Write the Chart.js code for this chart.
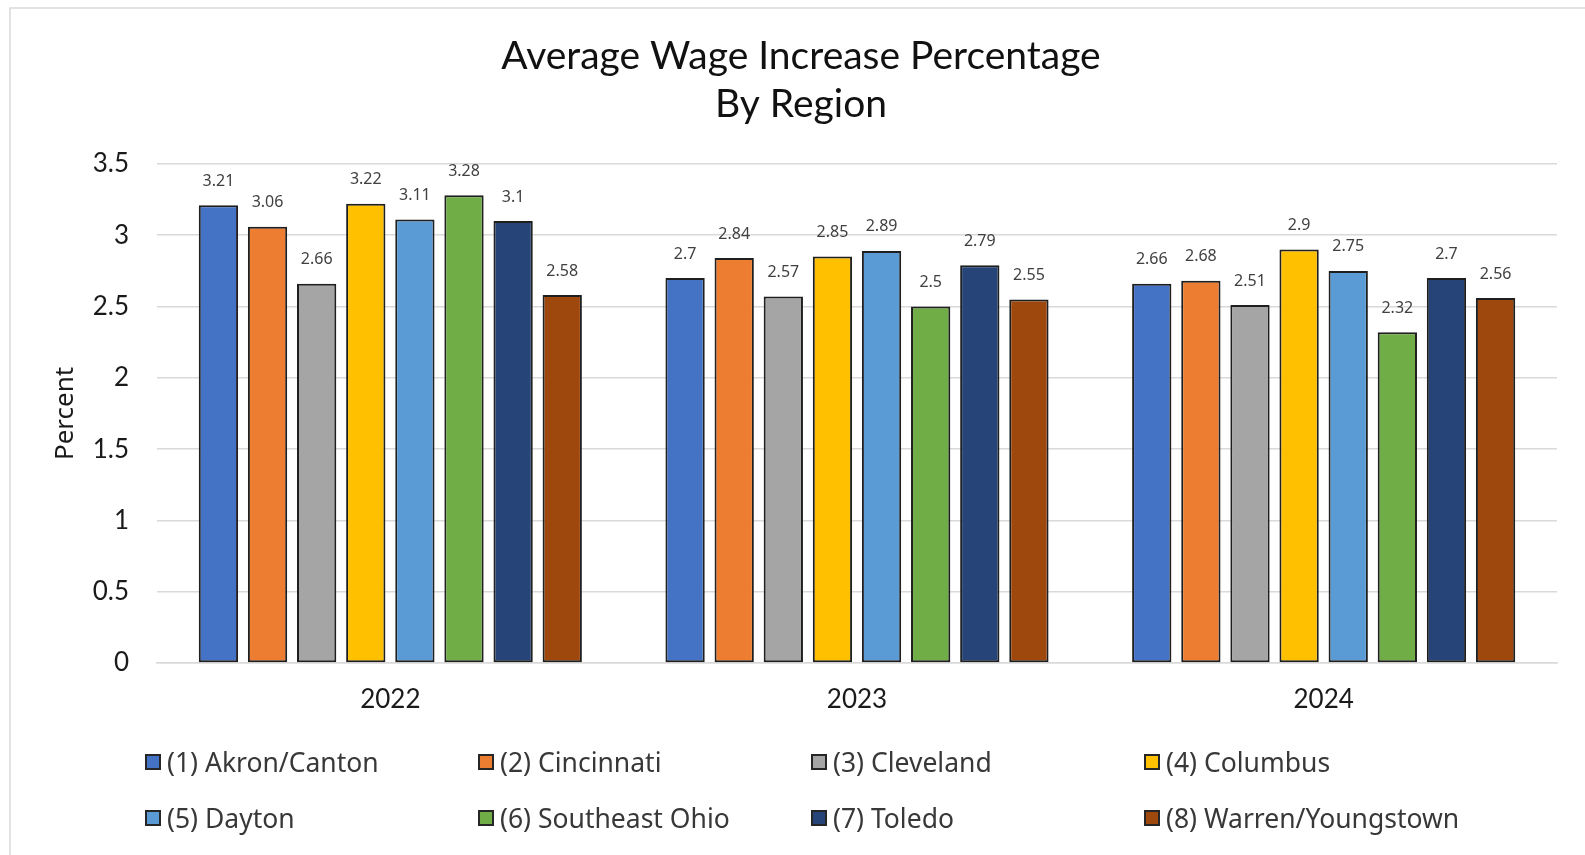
<!DOCTYPE html>
<html>
<head>
<meta charset="utf-8">
<script src="https://cdn.jsdelivr.net/npm/chart.js@4.4.1/dist/chart.umd.min.js"></script>
<style>
  html, body { margin: 0; padding: 0; background: #fff; }
  #wrap { position: relative; width: 1585px; height: 855px; }
  #chart { position: absolute; left: 0; top: 0; }
  #legend {
    position: absolute; left: 145px; top: 739px;
    display: grid; grid-template-columns: repeat(4, 333px); grid-auto-rows: 56px;
    font-family: "Noto Sans", sans-serif; font-size: 26.5px; color: #383838;
  }
  .item { display: flex; align-items: center; height: 46px; white-space: nowrap; }
  .box { width: 16px; height: 16px; border: 2px solid #262626; box-sizing: border-box; margin-right: 6px; }
</style>
</head>
<body>
<div id="wrap">
  <canvas id="chart" width="1585" height="855"></canvas>
  <div id="legend"></div>
</div>
<script>
// Survey years
const years = ['2022', '2023', '2024'];

// Region names
const regions = [
  '(1) Akron/Canton', '(2) Cincinnati', '(3) Cleveland', '(4) Columbus',
  '(5) Dayton', '(6) Southeast Ohio', '(7) Toledo', '(8) Warren/Youngstown'
];

// Average wage increase (%) per region, one value per year
const akronCanton       = [3.21, 2.7, 2.66];
const cincinnati        = [3.06, 2.84, 2.68];
const cleveland         = [2.66, 2.57, 2.51];
const columbus          = [3.22, 2.85, 2.9];
const dayton            = [3.11, 2.89, 2.75];
const southeastOhio     = [3.28, 2.5, 2.32];
const toledo            = [3.1, 2.79, 2.7];
const warrenYoungstown  = [2.58, 2.55, 2.56];

// Y axis ticks
const yTicks = [0, 0.5, 1, 1.5, 2, 2.5, 3, 3.5];

const seriesValues = [akronCanton, cincinnati, cleveland, columbus, dayton, southeastOhio, toledo, warrenYoungstown];
const colors = ['#4472C4', '#ED7D31', '#A5A5A5', '#FFC000', '#5B9BD5', '#70AD47', '#264478', '#9E480E'];

const datasets = regions.map((name, i) => ({
  label: name,
  data: seriesValues[i],
  backgroundColor: colors[i],
  borderColor: '#1f1f1f',
  borderWidth: 2,
  borderSkipped: false,
  categoryPercentage: 0.842,
  barPercentage: 0.80
}));

// White page with a light frame around the chart
const framePlugin = {
  id: 'frame',
  beforeDraw(chart) {
    const ctx = chart.ctx;
    ctx.save();
    ctx.fillStyle = '#ffffff';
    ctx.fillRect(0, 0, chart.width, chart.height);
    ctx.strokeStyle = '#d9d9d9';
    ctx.lineWidth = 1.5;
    ctx.strokeRect(10, 8, 1700, 1000);
    ctx.restore();
  }
};

// Value labels above each bar
const valueLabels = {
  id: 'valueLabels',
  afterDatasetsDraw(chart) {
    const ctx = chart.ctx;
    ctx.save();
    ctx.font = '16px "Noto Sans", sans-serif';
    ctx.fillStyle = '#404040';
    ctx.textAlign = 'center';
    ctx.textBaseline = 'middle';
    chart.data.datasets.forEach((ds, di) => {
      chart.getDatasetMeta(di).data.forEach((bar, i) => {
        ctx.fillText(String(ds.data[i]), bar.x, bar.y - 24);
      });
    });
    ctx.restore();
  }
};

new Chart(document.getElementById('chart'), {
  type: 'bar',
  data: { labels: years, datasets },
  options: {
    responsive: false,
    animation: false,
    layout: { padding: { left: 45, right: 28, top: 0, bottom: 132 } },
    plugins: {
      legend: { display: false },
      tooltip: { enabled: false },
      title: {
        display: true,
        text: ['Average Wage Increase Percentage', 'By Region'],
        color: '#111',
        font: { family: 'Lato', size: 39, weight: 'normal', lineHeight: 1.23 },
        padding: { top: 32, bottom: 36 }
      }
    },
    scales: {
      x: {
        grid: { display: false, drawTicks: false, tickLength: 0 },
        border: { display: true, color: '#d9d9d9', width: 1.5 },
        ticks: { color: '#1a1a1a', font: { family: 'Lato', size: 26 }, padding: 21 },
        afterFit(scale) { scale.height = 60; }
      },
      y: {
        min: 0, max: 3.5,
        afterBuildTicks(scale) { scale.ticks = yTicks.map(v => ({ value: v })); },
        grid: { color: '#d9d9d9', lineWidth: 1.5, drawTicks: false, tickLength: 0 },
        border: { display: false },
        ticks: {
          color: '#1a1a1a', font: { family: 'Lato', size: 26 }, padding: 28,
          callback: (v) => String(v)
        },
        title: {
          display: true, text: 'Percent', color: '#1a1a1a',
          font: { family: 'Noto Sans', size: 26 },
          padding: { top: 5, bottom: 0 }
        },
        afterFit(scale) { scale.width = 112; }
      }
    }
  },
  plugins: [framePlugin, valueLabels]
});

// Legend laid out in four columns below the chart
const legendEl = document.getElementById('legend');
regions.forEach((name, i) => {
  const item = document.createElement('div');
  item.className = 'item';
  const box = document.createElement('span');
  box.className = 'box';
  box.style.background = colors[i];
  const txt = document.createElement('span');
  txt.textContent = name;
  item.appendChild(box);
  item.appendChild(txt);
  legendEl.appendChild(item);
});
</script>
</body>
</html>
